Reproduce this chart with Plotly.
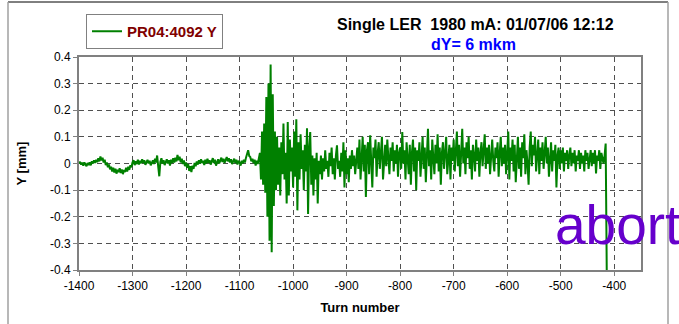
import plotly.graph_objects as go

# Turn-by-turn vertical position at PR04:4092, one sample every 2 turns,
# from turn -1400 up to the beam abort.
TURN_FIRST = -1400
TURN_STEP = 2

# turns -1400 .. -1302
y_quiet_start = [
    0.000, 0.006, -0.004, 0.003, -0.008, 0.004, -0.003, -0.010, 0.002, -0.006,
    0.004, -0.007, 0.008, 0.000, 0.012, 0.002, 0.014, 0.005, 0.020, 0.008,
    0.026, 0.012, 0.022, 0.004, 0.014, -0.006, 0.004, -0.014, -0.004, -0.022,
    -0.012, -0.030, -0.016, -0.034, -0.020, -0.038, -0.024, -0.032, -0.018, -0.036,
    -0.022, -0.040, -0.024, -0.032, -0.016, -0.030, -0.012, -0.024, -0.006, -0.014,
]
# turns -1300 .. -1102
y_quiet_mid = [
    0.004, 0.012, -0.006, 0.008, -0.002, 0.014, -0.004, 0.010, 0.001, 0.016,
    0.002, 0.012, -0.005, 0.008, 0.014, 0.000, 0.010, -0.007, 0.006, 0.012,
    -0.002, 0.018, 0.004, 0.030, -0.012, -0.048, 0.006, 0.020, 0.000, 0.012,
    -0.006, 0.010, 0.016, 0.000, 0.012, -0.008, 0.014, 0.002, 0.020, 0.004,
    0.022, 0.008, 0.032, 0.012, 0.026, 0.004, 0.018, -0.002, 0.012, -0.010,
    0.004, -0.016, -0.002, -0.028, -0.010, -0.032, -0.008, -0.020, 0.002, -0.010,
    0.008, -0.004, 0.012, 0.000, 0.016, 0.002, 0.010, -0.006, 0.014, 0.000,
    0.018, 0.004, 0.012, -0.004, 0.010, 0.020, 0.002, 0.014, -0.008, 0.008,
    0.016, 0.000, 0.012, 0.022, 0.006, 0.018, 0.002, 0.014, 0.024, 0.008,
    0.020, 0.004, 0.016, -0.002, 0.012, 0.018, 0.002, 0.014, -0.004, 0.010,
]
# turns -1100 .. -1064
y_precursor = [
    0.004, -0.008, 0.010, 0.000, 0.014, 0.004, 0.022, 0.034, 0.050, 0.028,
    0.024, 0.008, 0.018, 0.002, 0.014, -0.008, 0.010, -0.002, 0.016,
]
# turns -1062 .. -1032
y_burst = [
    0.040, -0.060, 0.120, -0.080, 0.150, -0.110, 0.250, -0.200,
    0.300, -0.290, 0.372, -0.333, 0.260, -0.160, 0.120, -0.100,
]
# turns -1030 .. -952
y_decay = [
    0.100, -0.080, 0.060, -0.120, 0.080, -0.040, 0.150, -0.060, 0.040, -0.150,
    0.156, -0.120, 0.090, -0.030, 0.060, -0.090, 0.120, -0.050, 0.166, -0.176,
    0.080, -0.060, 0.110, -0.020, 0.050, -0.100, 0.070, -0.030, 0.132, -0.190,
    0.060, 0.118, -0.080, 0.030, -0.120, 0.020, -0.060, 0.040, -0.150, 0.010,
]
# turns -950 .. -882
y_calm = [
    -0.040, 0.030, -0.060, 0.020, -0.030, 0.050, -0.020, 0.010, -0.050, 0.040,
    -0.010, 0.060, -0.040, 0.020, -0.060, 0.030, 0.068, -0.020, 0.010, -0.050,
    0.040, -0.030, 0.080, -0.090, 0.050, -0.040, 0.020, -0.070, 0.030, -0.020,
    0.050, -0.010, 0.030, -0.040, 0.020,
]
# turns -880 .. -802
y_regrowth = [
    0.060, -0.020, 0.090, -0.060, 0.040, 0.100, -0.030, 0.070, -0.126, 0.050,
    0.080, -0.040, 0.106, 0.010, -0.090, 0.060, 0.020, 0.090, -0.050, 0.040,
    0.080, -0.020, 0.050, 0.100, -0.060, 0.030, 0.070, -0.010, 0.090, 0.020,
    -0.040, 0.060, 0.010, 0.080, -0.030, 0.050, 0.000, 0.070, -0.050, 0.040,
]
# turns -800 .. -702
y_band_800 = [
    0.060, -0.020, 0.118, 0.000, 0.050, -0.060, 0.080, 0.020, -0.040, 0.070,
    -0.080, 0.040, 0.090, -0.030, 0.060, -0.100, 0.050, 0.010, 0.080, -0.050,
    0.030, 0.100, -0.020, 0.060, -0.070, 0.040, 0.130, -0.010, 0.050, -0.060,
    0.090, 0.020, -0.040, 0.070, 0.000, 0.110, -0.030, 0.060, -0.080, 0.040,
    0.080, -0.020, 0.050, 0.100, -0.040, 0.030, 0.070, -0.060, 0.060, 0.010,
]
# turns -700 .. -602
y_band_700 = [
    0.090, -0.030, 0.050, 0.120, -0.010, 0.070, -0.050, 0.040, 0.130, 0.000,
    0.060, -0.040, 0.080, 0.020, 0.100, -0.020, 0.050, -0.060, 0.070, 0.030,
    -0.030, 0.090, 0.010, 0.060, -0.050, 0.040, 0.080, -0.010, 0.050, 0.110,
    -0.020, 0.060, 0.000, 0.070, -0.040, 0.050, 0.090, 0.010, -0.030, 0.060,
    0.020, 0.080, -0.050, 0.040, 0.100, -0.010, 0.060, 0.000, 0.070, -0.040,
]
# turns -600 .. -502
y_band_600 = [
    0.050, 0.120, -0.060, 0.060, 0.010, 0.090, -0.030, 0.070, -0.070, 0.040,
    0.100, -0.020, 0.060, -0.050, 0.080, 0.020, 0.110, -0.040, 0.050, 0.000,
    -0.080, 0.060, 0.120, -0.010, 0.070, 0.030, 0.100, -0.030, 0.050, 0.090,
    -0.040, 0.060, 0.010, 0.080, -0.020, 0.050, 0.100, 0.000, 0.060, -0.050,
    0.040, 0.080, -0.030, 0.050, 0.010, 0.070, -0.090, 0.030, 0.060, -0.020,
]
# turns -500 .. -416, then the abort at -414
y_final = [
    0.050, 0.000, 0.060, -0.030, 0.040, 0.010, 0.050, -0.020, 0.030, 0.060,
    -0.010, 0.040, 0.000, 0.050, -0.030, 0.030, 0.010, 0.050, -0.020, 0.040,
    0.000, 0.030, -0.030, 0.050, 0.010, 0.040, -0.020, 0.030, 0.050, -0.010,
    0.040, 0.000, 0.050, -0.037, 0.030, 0.010, 0.050, -0.020, 0.040, 0.020,
    0.000, 0.030, 0.075,
    -0.400,
]

y_mm = (y_quiet_start + y_quiet_mid + y_precursor + y_burst + y_decay + y_calm
        + y_regrowth + y_band_800 + y_band_700 + y_band_600 + y_final)

x_tick_vals = [-1400, -1300, -1200, -1100, -1000, -900, -800, -700, -600, -500, -400]
x_tick_text = ["-1400", "-1300", "-1200", "-1100", "-1000", "-900", "-800",
               "-700", "-600", "-500", "-400"]
y_tick_vals = [-0.4, -0.3, -0.2, -0.1, 0.0, 0.1, 0.2, 0.3, 0.4]
y_tick_text = ["-0.4", "-0.3", "-0.2", "-0.1", "0", "0.1", "0.2", "0.3", "0.4"]

series_name = "PR04:4092 Y"
title_text = "Single LER\u00a0 1980 mA: 01/07/06 12:12"
subtitle_text = "dY= 6 mkm"
abort_text = "abort"

FONT = "Liberation Sans, Arial, sans-serif"
W, H = 679, 324
PL, PR, PT, PB = 79, 641, 57, 270


def px_x(px):
    return (px - PL) / (PR - PL)


def px_y(py):
    return (PB - py) / (PB - PT)


fig = go.Figure()
fig.add_trace(go.Scatter(
    x0=TURN_FIRST, dx=TURN_STEP, y=y_mm,
    mode="lines", name=series_name,
    line=dict(color="#008000", width=2),
))

axis_common = dict(
    showline=True, linecolor="#808080", linewidth=2, mirror=True,
    ticks="outside", tickcolor="#808080", ticklen=4, tickwidth=1,
    showgrid=True, gridcolor="#505050", griddash="5px,4px", gridwidth=1,
    zeroline=False,
    tickfont=dict(family=FONT, size=12, color="#000000"),
)

fig.update_layout(
    width=W, height=H,
    margin=dict(l=PL, r=W - PR, t=PT, b=H - PB, autoexpand=False),
    paper_bgcolor="white", plot_bgcolor="white",
    font=dict(family=FONT, color="#000000"),
    xaxis=dict(
        range=[-1400, -350], tickvals=x_tick_vals, ticktext=x_tick_text,
        title=dict(text="Turn number", standoff=10,
                   font=dict(family=FONT, size=13, weight="bold")),
        **axis_common,
    ),
    yaxis=dict(
        range=[-0.4, 0.4], tickvals=y_tick_vals, ticktext=y_tick_text,
        title=dict(text="Y [mm]", standoff=20,
                   font=dict(family=FONT, size=13, weight="bold")),
        **axis_common,
    ),
    showlegend=True,
    legend=dict(
        x=px_x(86), y=px_y(14), xanchor="left", yanchor="top",
        bgcolor="white", bordercolor="#808080", borderwidth=1,
        font=dict(family=FONT, size=15, color="#800000", weight="bold"),
        itemwidth=30,
    ),
)

fig.add_annotation(
    xref="paper", yref="paper", x=px_x(475), y=px_y(24),
    xanchor="center", yanchor="middle", showarrow=False,
    text=title_text, font=dict(family=FONT, size=16, weight="bold", color="#000000"),
)
fig.add_annotation(
    xref="paper", yref="paper", x=px_x(473), y=px_y(44),
    xanchor="center", yanchor="middle", showarrow=False,
    text=subtitle_text, font=dict(family=FONT, size=16, weight="bold", color="#0000FF"),
)
fig.add_annotation(
    xref="paper", yref="paper", x=px_x(553), y=px_y(225),
    xanchor="left", yanchor="middle", showarrow=False,
    text=abort_text, font=dict(family=FONT, size=55, color="#6600CC"),
)

# chart-area frame
fx0, fx1, fy0, fy1 = px_x(8), px_x(668), px_y(2), px_y(324)
fig.add_shape(type="line", xref="paper", yref="paper", x0=fx0, x1=fx1, y0=fy0, y1=fy0,
              line=dict(color="#000000", width=1))
fig.add_shape(type="line", xref="paper", yref="paper", x0=fx0, x1=fx0, y0=fy0, y1=fy1,
              line=dict(color="#A0A0A0", width=1.5))
fig.add_shape(type="line", xref="paper", yref="paper", x0=fx1, x1=fx1, y0=fy0, y1=fy1,
              line=dict(color="#A0A0A0", width=1.5))

fig.write_html("out.html")
